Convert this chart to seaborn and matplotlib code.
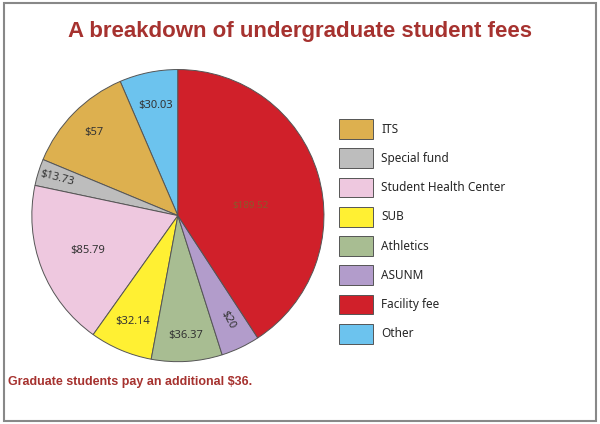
import numpy as np
import seaborn as sns
import matplotlib.pyplot as plt
from matplotlib.patches import Rectangle

# fee data, in the order the slices go round (counter-clockwise from the top)
fees = ['Other', 'ITS', 'Special fund', 'Student Health Center', 'SUB',
        'Athletics', 'ASUNM', 'Facility fee']
amounts = [30.03, 57, 13.73, 85.79, 32.14, 36.37, 20, 189.52]
labels = ['$30.03', '$57', '$13.73', '$85.79', '$32.14', '$36.37', '$20', '$189.52']
colors = ['#6CC3EE', '#DDB04F', '#BDBDBD', '#EEC8DF', '#FFF033',
          '#A8BD92', '#B29CCB', '#D0202A']
# legend order
legend_order = ['ITS', 'Special fund', 'Student Health Center', 'SUB',
                'Athletics', 'ASUNM', 'Facility fee', 'Other']

sns.set_theme(style='white')
plt.rcParams['font.family'] = ['Noto Sans', 'DejaVu Sans']

fig = plt.figure(figsize=(6, 4.24), dpi=100)
fig.patch.set_facecolor('white')

ax = fig.add_axes([0.053, 0.147, 0.487, 0.689])
wedges, _ = ax.pie(amounts, colors=colors, startangle=90, counterclock=True,
                   wedgeprops=dict(edgecolor='#555555', linewidth=0.7))
ax.set_xlim(-1, 1)
ax.set_ylim(-1, 1)
ax.set_aspect('equal')
ax.axis('off')

# value labels inside the slices
label_r = [0.77, 0.81, 0.87, 0.66, 0.79, 0.82, 0.79, 0.5]
label_da = [0, 0, 0, 0, 0, 0, 0, -8]
label_rot = [0, 0, -15, 0, 0, 0, -62, 0]
for w, lab, r, da, rot, name in zip(wedges, labels, label_r, label_da, label_rot, fees):
    mid = np.deg2rad((w.theta1 + w.theta2) / 2 + da)
    if name == 'Facility fee':
        col, fs = '#8B5A2B', 7
    else:
        col, fs = '#333333', 8
    ax.text(r * np.cos(mid), r * np.sin(mid), lab, ha='center', va='center',
            fontsize=fs, color=col, rotation=rot)

handles = [wedges[fees.index(n)] for n in legend_order]
fig.legend(handles, legend_order, loc='upper left',
           bbox_to_anchor=(0.557, 0.73), frameon=False, fontsize=8.5,
           handlelength=2.9, handleheight=2.2, labelspacing=0.8,
           handletextpad=0.7, borderaxespad=0)

fig.text(0.5, 0.925, 'A breakdown of undergraduate student fees', ha='center',
         va='center', fontsize=16, fontweight='bold', color='#A6322F',
         family=['Liberation Sans', 'DejaVu Sans'])
fig.text(0.014, 0.098, 'Graduate students pay an additional $36.', ha='left',
         va='center', fontsize=9, fontweight='bold', color='#A6322F',
         family=['Liberation Sans', 'DejaVu Sans'])

fig.patches.append(Rectangle((0.006, 0.007), 0.988, 0.986, transform=fig.transFigure,
                             fill=False, edgecolor='#888888', linewidth=1.5))

fig.savefig('out.png', dpi=100)
